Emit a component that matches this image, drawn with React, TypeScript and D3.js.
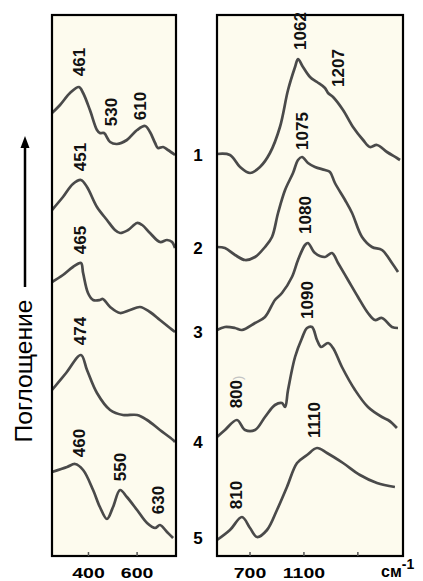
import React, { useEffect, useRef } from "react";
import { select, scaleLinear, line, curveCatmullRom } from "d3";

// spectra: [wavenumber, absorbance (a.u., stacked)]
const curveNames = ["1", "2", "3", "4", "5"];

const lowSpectra: [number, number][][] = [
  [[250, 443], [283, 451], [324, 463], [361, 469], [378, 463], [406, 446], [435, 426], [447, 423], [464, 423], [489, 414], [517, 412], [558, 416], [600, 426], [633, 430], [653, 424], [674, 413], [686, 408], [707, 409], [727, 406], [756, 401]],
  [[250, 346], [295, 359], [336, 372], [369, 376], [394, 369], [435, 349], [476, 336], [509, 326], [530, 323], [563, 326], [600, 333], [621, 331], [653, 323], [694, 314], [723, 316], [744, 314], [756, 308]],
  [[250, 274], [295, 281], [336, 289], [369, 293], [378, 283], [398, 263], [419, 256], [447, 256], [459, 257], [489, 249], [530, 243], [571, 246], [612, 249], [653, 244], [694, 236], [735, 228], [756, 224]],
  [[250, 166], [308, 183], [369, 201], [394, 186], [435, 163], [489, 146], [542, 141], [600, 141], [641, 136], [694, 126], [748, 116], [756, 114]],
  [[250, 84], [312, 89], [345, 92], [378, 86], [419, 66], [447, 49], [476, 37], [501, 49], [530, 66], [558, 59], [600, 46], [641, 33], [674, 28], [694, 31], [723, 24], [748, 18]],
];

const highSpectra: [number, number][][] = [
  [[455, 402], [551, 401], [626, 389], [700, 383], [774, 389], [848, 403], [922, 429], [982, 466], [1034, 489], [1056, 497], [1093, 489], [1145, 479], [1197, 474], [1256, 468], [1279, 463], [1316, 459], [1390, 446], [1464, 429], [1539, 416], [1590, 409], [1642, 411], [1716, 404], [1790, 398], [1813, 396]],
  [[455, 309], [514, 308], [589, 301], [663, 296], [737, 299], [811, 309], [863, 319], [908, 343], [960, 366], [1019, 383], [1056, 396], [1086, 399], [1130, 393], [1182, 389], [1256, 386], [1293, 384], [1330, 373], [1405, 356], [1457, 343], [1531, 319], [1605, 309], [1679, 306], [1753, 293], [1798, 284]],
  [[455, 226], [514, 229], [589, 228], [640, 226], [737, 233], [811, 239], [885, 256], [937, 263], [1011, 279], [1056, 296], [1108, 311], [1130, 313], [1182, 303], [1256, 299], [1308, 303], [1353, 293], [1427, 276], [1501, 259], [1575, 243], [1627, 236], [1679, 238], [1753, 229], [1798, 228]],
  [[455, 119], [514, 126], [603, 136], [663, 126], [737, 126], [811, 139], [885, 151], [937, 153], [960, 149], [982, 166], [1034, 199], [1086, 218], [1123, 228], [1160, 229], [1197, 216], [1227, 209], [1279, 213], [1316, 208], [1382, 189], [1479, 166], [1575, 149], [1679, 139], [1724, 136], [1753, 133], [1790, 128]],
  [[455, 16], [551, 26], [640, 39], [700, 28], [752, 19], [826, 26], [900, 46], [974, 69], [1049, 93], [1123, 101], [1197, 108], [1271, 103], [1390, 93], [1516, 81], [1642, 73], [1775, 69]],
];

// peak labels: [text, wavenumber, absorbance]
const lowPeaks: [string, number, number][] = [
  ["461", 365, 494], ["530", 493, 444], ["610", 612, 450],
  ["451", 369, 399], ["465", 369, 316], ["474", 369, 225],
  ["460", 365, 113], ["550", 530, 89], ["630", 690, 56],
];
const highPeaks: [string, number, number][] = [
  ["1062", 1071, 525], ["1207", 1353, 488], ["1075", 1086, 425],
  ["1080", 1115, 341], ["1090", 1130, 256], ["800", 603, 164],
  ["1110", 1182, 136], ["810", 603, 61],
];

const lowTicks = [400, 600];
const highTicks = [700, 1100, 1500];
const highTickLabels = ["700", "1100", ""];

const font = "'Liberation Sans', Arial, sans-serif";

export default function App() {
  const ref = useRef<SVGSVGElement | null>(null);

  useEffect(() => {
    const svg = select(ref.current);
    svg.selectAll("*").remove();

    const y = scaleLinear().domain([0, 541]).range([556, 15]);
    const xLow = scaleLinear().domain([250, 760]).range([52, 176]);
    const xHigh = scaleLinear().domain([455, 1835]).range([217, 403]);

    const panels = [
      { x: xLow, spectra: lowSpectra, peaks: lowPeaks, ticks: lowTicks, labels: lowTicks.map(String) },
      { x: xHigh, spectra: highSpectra, peaks: highPeaks, ticks: highTicks, labels: highTickLabels },
    ];

    panels.forEach(p => {
      const [x0, x1] = p.x.range();
      const [yb, yt] = y.range();
      svg.append("rect")
        .attr("x", x0).attr("y", yt)
        .attr("width", x1 - x0).attr("height", yb - yt)
        .attr("fill", "#fdfbee");

      const path = line<[number, number]>()
        .x(d => p.x(d[0]))
        .y(d => y(d[1]))
        .curve(curveCatmullRom.alpha(0.5));

      svg.selectAll(null)
        .data(p.spectra)
        .enter()
        .append("path")
        .attr("d", d => path(d))
        .attr("fill", "none")
        .attr("stroke", "#4a4a4a")
        .attr("stroke-width", 2.7)
        .attr("stroke-linejoin", "round");

      svg.append("rect")
        .attr("x", x0).attr("y", yt)
        .attr("width", x1 - x0).attr("height", yb - yt)
        .attr("fill", "none")
        .attr("stroke", "#000")
        .attr("stroke-width", 2.2);

      // ticks
      p.ticks.forEach((t, i) => {
        svg.append("line")
          .attr("x1", p.x(t)).attr("x2", p.x(t))
          .attr("y1", yb).attr("y2", yb - 4)
          .attr("stroke", "#555").attr("stroke-width", 1.5);
        if (p.labels[i]) {
          svg.append("text")
            .attr("transform", `translate(${p.x(t)},${578}) scale(1.3,1)`)
            .attr("text-anchor", "middle")
            .attr("font-family", font)
            .attr("font-weight", "bold")
            .attr("font-size", 15)
            .text(p.labels[i]);
        }
      });

      p.peaks.forEach(([txt, wn, a]) => {
        const t = svg.append("text")
          .attr("transform", `translate(${p.x(wn)},${y(a)}) rotate(-90)`)
          .attr("text-anchor", "middle")
          .attr("dominant-baseline", "central")
          .attr("font-family", font)
          .attr("font-weight", "bold")
          .attr("font-size", 17)
          .attr("fill", "#111")
          .text(txt);
        if (txt === "800") t.append("tspan").attr("fill", "#c4c4c4").attr("font-weight", "normal").attr("font-size", 13).text(")");
      });
    });

    // curve numbers between panels
    lowSpectra.forEach((s, i) => {
      const last = s[s.length - 1];
      svg.append("text")
        .attr("x", 198).attr("y", y(last[1]))
        .attr("text-anchor", "middle")
        .attr("dominant-baseline", "central")
        .attr("font-family", font)
        .attr("font-weight", "bold")
        .attr("font-size", 17)
        .text(curveNames[i]);
    });

    // unit
    const unit = svg.append("text")
      .attr("x", 381).attr("y", 577)
      .attr("font-family", font)
      .attr("font-weight", "bold")
      .attr("font-size", 16);
    unit.append("tspan").text("см");
    unit.append("tspan").attr("dy", -8).attr("font-size", 14).text("-1");

    // y label with arrow
    svg.append("text")
      .attr("transform", "translate(23,371) rotate(-90)")
      .attr("text-anchor", "middle")
      .attr("dominant-baseline", "central")
      .attr("font-family", font)
      .attr("font-size", 24)
      .attr("textLength", 143)
      .attr("lengthAdjust", "spacingAndGlyphs")
      .text("Поглощение");
    svg.append("line")
      .attr("x1", 25).attr("x2", 25)
      .attr("y1", 287).attr("y2", 146)
      .attr("stroke", "#000").attr("stroke-width", 2.5);
    svg.append("path")
      .attr("d", "M25,136 L20.5,148 L29.5,148 Z")
      .attr("fill", "#000");
  }, []);

  return (
    <svg
      ref={ref}
      width={423}
      height={581}
      style={{ position: "absolute", left: 0, top: 0, background: "#fff" }}
    />
  );
}
